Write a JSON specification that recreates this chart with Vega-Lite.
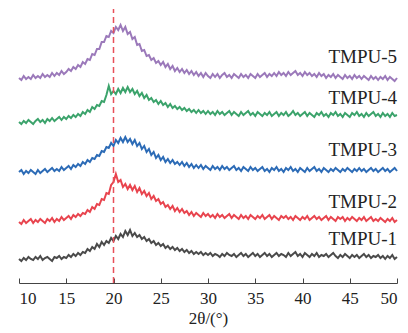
{"$schema":"https://vega.github.io/schema/vega-lite/v6.json","width":378,"height":278,"autosize":"none","padding":{"left":19,"top":5,"right":11,"bottom":50},"background":"white",
"datasets":{
"ref":[{"x":20}],
"labels":[{"s":1,"t":"TMPU-1","x":50,"y":44},{"s":2,"t":"TMPU-2","x":50,"y":81},{"s":3,"t":"TMPU-3","x":50,"y":133},{"s":4,"t":"TMPU-4","x":50,"y":185},{"s":5,"t":"TMPU-5","x":50,"y":226}],
"xrd":[
{"s":1,"x":10,"y":24},{"s":1,"x":10.25,"y":22},{"s":1,"x":10.5,"y":25},{"s":1,"x":10.75,"y":23},{"s":1,"x":11,"y":26},{"s":1,"x":11.25,"y":24},{"s":1,"x":11.5,"y":23},{"s":1,"x":11.75,"y":26},{"s":1,"x":12,"y":24},{"s":1,"x":12.25,"y":27},{"s":1,"x":12.5,"y":23},{"s":1,"x":12.75,"y":25},{"s":1,"x":13,"y":26},{"s":1,"x":13.25,"y":24},{"s":1,"x":13.5,"y":22},{"s":1,"x":13.75,"y":26},{"s":1,"x":14,"y":25},{"s":1,"x":14.25,"y":27},{"s":1,"x":14.5,"y":24},{"s":1,"x":14.75,"y":26},{"s":1,"x":15,"y":25},{"s":1,"x":15.25,"y":28},{"s":1,"x":15.5,"y":26},{"s":1,"x":15.75,"y":29},{"s":1,"x":16,"y":27},{"s":1,"x":16.25,"y":30},{"s":1,"x":16.5,"y":28},{"s":1,"x":16.75,"y":31},{"s":1,"x":17,"y":30},{"s":1,"x":17.25,"y":34},{"s":1,"x":17.5,"y":32},{"s":1,"x":17.75,"y":36},{"s":1,"x":18,"y":34},{"s":1,"x":18.25,"y":39},{"s":1,"x":18.5,"y":36},{"s":1,"x":18.75,"y":41},{"s":1,"x":19,"y":38},{"s":1,"x":19.25,"y":42},{"s":1,"x":19.5,"y":40},{"s":1,"x":19.75,"y":45},{"s":1,"x":20,"y":42},{"s":1,"x":20.25,"y":47},{"s":1,"x":20.5,"y":44},{"s":1,"x":20.75,"y":49},{"s":1,"x":21,"y":46},{"s":1,"x":21.25,"y":52},{"s":1,"x":21.5,"y":48},{"s":1,"x":21.75,"y":53},{"s":1,"x":22,"y":47},{"s":1,"x":22.25,"y":50},{"s":1,"x":22.5,"y":46},{"s":1,"x":22.75,"y":48},{"s":1,"x":23,"y":44},{"s":1,"x":23.25,"y":46},{"s":1,"x":23.5,"y":42},{"s":1,"x":23.75,"y":44},{"s":1,"x":24,"y":40},{"s":1,"x":24.25,"y":42},{"s":1,"x":24.5,"y":38},{"s":1,"x":24.75,"y":40},{"s":1,"x":25,"y":37},{"s":1,"x":25.25,"y":39},{"s":1,"x":25.5,"y":35},{"s":1,"x":25.75,"y":37},{"s":1,"x":26,"y":34},{"s":1,"x":26.25,"y":36},{"s":1,"x":26.5,"y":33},{"s":1,"x":26.75,"y":35},{"s":1,"x":27,"y":32},{"s":1,"x":27.25,"y":34},{"s":1,"x":27.5,"y":31},{"s":1,"x":27.75,"y":33},{"s":1,"x":28,"y":30},{"s":1,"x":28.25,"y":32},{"s":1,"x":28.5,"y":29},{"s":1,"x":28.75,"y":31},{"s":1,"x":29,"y":29},{"s":1,"x":29.25,"y":31},{"s":1,"x":29.5,"y":28},{"s":1,"x":29.75,"y":30},{"s":1,"x":30,"y":28},{"s":1,"x":30.25,"y":30},{"s":1,"x":30.5,"y":27},{"s":1,"x":30.75,"y":29},{"s":1,"x":31,"y":28},{"s":1,"x":31.25,"y":26},{"s":1,"x":31.5,"y":29},{"s":1,"x":31.75,"y":27},{"s":1,"x":32,"y":30},{"s":1,"x":32.25,"y":28},{"s":1,"x":32.5,"y":27},{"s":1,"x":32.75,"y":29},{"s":1,"x":33,"y":26},{"s":1,"x":33.25,"y":28},{"s":1,"x":33.5,"y":30},{"s":1,"x":33.75,"y":27},{"s":1,"x":34,"y":29},{"s":1,"x":34.25,"y":26},{"s":1,"x":34.5,"y":28},{"s":1,"x":34.75,"y":30},{"s":1,"x":35,"y":27},{"s":1,"x":35.25,"y":29},{"s":1,"x":35.5,"y":26},{"s":1,"x":35.75,"y":28},{"s":1,"x":36,"y":30},{"s":1,"x":36.25,"y":27},{"s":1,"x":36.5,"y":29},{"s":1,"x":36.75,"y":26},{"s":1,"x":37,"y":28},{"s":1,"x":37.25,"y":30},{"s":1,"x":37.5,"y":27},{"s":1,"x":37.75,"y":29},{"s":1,"x":38,"y":28},{"s":1,"x":38.25,"y":26},{"s":1,"x":38.5,"y":30},{"s":1,"x":38.75,"y":27},{"s":1,"x":39,"y":29},{"s":1,"x":39.25,"y":31},{"s":1,"x":39.5,"y":27},{"s":1,"x":39.75,"y":29},{"s":1,"x":40,"y":26},{"s":1,"x":40.25,"y":30},{"s":1,"x":40.5,"y":28},{"s":1,"x":40.75,"y":26},{"s":1,"x":41,"y":29},{"s":1,"x":41.25,"y":27},{"s":1,"x":41.5,"y":30},{"s":1,"x":41.75,"y":26},{"s":1,"x":42,"y":28},{"s":1,"x":42.25,"y":27},{"s":1,"x":42.5,"y":29},{"s":1,"x":42.75,"y":26},{"s":1,"x":43,"y":28},{"s":1,"x":43.25,"y":30},{"s":1,"x":43.5,"y":27},{"s":1,"x":43.75,"y":25},{"s":1,"x":44,"y":28},{"s":1,"x":44.25,"y":26},{"s":1,"x":44.5,"y":29},{"s":1,"x":44.75,"y":27},{"s":1,"x":45,"y":25},{"s":1,"x":45.25,"y":28},{"s":1,"x":45.5,"y":26},{"s":1,"x":45.75,"y":28},{"s":1,"x":46,"y":25},{"s":1,"x":46.25,"y":27},{"s":1,"x":46.5,"y":29},{"s":1,"x":46.75,"y":26},{"s":1,"x":47,"y":28},{"s":1,"x":47.25,"y":25},{"s":1,"x":47.5,"y":27},{"s":1,"x":47.75,"y":26},{"s":1,"x":48,"y":28},{"s":1,"x":48.25,"y":25},{"s":1,"x":48.5,"y":27},{"s":1,"x":48.75,"y":24},{"s":1,"x":49,"y":27},{"s":1,"x":49.25,"y":25},{"s":1,"x":49.5,"y":28},{"s":1,"x":49.75,"y":24},{"s":1,"x":50,"y":26},
{"s":2,"x":10,"y":61},{"s":2,"x":10.25,"y":59},{"s":2,"x":10.5,"y":63},{"s":2,"x":10.75,"y":60},{"s":2,"x":11,"y":62},{"s":2,"x":11.25,"y":64},{"s":2,"x":11.5,"y":60},{"s":2,"x":11.75,"y":63},{"s":2,"x":12,"y":61},{"s":2,"x":12.25,"y":64},{"s":2,"x":12.5,"y":62},{"s":2,"x":12.75,"y":60},{"s":2,"x":13,"y":64},{"s":2,"x":13.25,"y":62},{"s":2,"x":13.5,"y":65},{"s":2,"x":13.75,"y":61},{"s":2,"x":14,"y":64},{"s":2,"x":14.25,"y":62},{"s":2,"x":14.5,"y":66},{"s":2,"x":14.75,"y":63},{"s":2,"x":15,"y":65},{"s":2,"x":15.25,"y":67},{"s":2,"x":15.5,"y":64},{"s":2,"x":15.75,"y":68},{"s":2,"x":16,"y":66},{"s":2,"x":16.25,"y":69},{"s":2,"x":16.5,"y":67},{"s":2,"x":16.75,"y":70},{"s":2,"x":17,"y":69},{"s":2,"x":17.25,"y":73},{"s":2,"x":17.5,"y":71},{"s":2,"x":17.75,"y":76},{"s":2,"x":18,"y":74},{"s":2,"x":18.25,"y":79},{"s":2,"x":18.5,"y":78},{"s":2,"x":18.75,"y":84},{"s":2,"x":19,"y":83},{"s":2,"x":19.25,"y":90},{"s":2,"x":19.5,"y":89},{"s":2,"x":19.75,"y":98},{"s":2,"x":20,"y":101},{"s":2,"x":20.25,"y":109},{"s":2,"x":20.5,"y":101},{"s":2,"x":20.75,"y":103},{"s":2,"x":21,"y":96},{"s":2,"x":21.25,"y":99},{"s":2,"x":21.5,"y":94},{"s":2,"x":21.75,"y":98},{"s":2,"x":22,"y":93},{"s":2,"x":22.25,"y":97},{"s":2,"x":22.5,"y":91},{"s":2,"x":22.75,"y":95},{"s":2,"x":23,"y":89},{"s":2,"x":23.25,"y":92},{"s":2,"x":23.5,"y":87},{"s":2,"x":23.75,"y":90},{"s":2,"x":24,"y":84},{"s":2,"x":24.25,"y":87},{"s":2,"x":24.5,"y":82},{"s":2,"x":24.75,"y":84},{"s":2,"x":25,"y":79},{"s":2,"x":25.25,"y":81},{"s":2,"x":25.5,"y":76},{"s":2,"x":25.75,"y":78},{"s":2,"x":26,"y":74},{"s":2,"x":26.25,"y":77},{"s":2,"x":26.5,"y":72},{"s":2,"x":26.75,"y":75},{"s":2,"x":27,"y":71},{"s":2,"x":27.25,"y":74},{"s":2,"x":27.5,"y":70},{"s":2,"x":27.75,"y":72},{"s":2,"x":28,"y":68},{"s":2,"x":28.25,"y":71},{"s":2,"x":28.5,"y":67},{"s":2,"x":28.75,"y":70},{"s":2,"x":29,"y":68},{"s":2,"x":29.25,"y":66},{"s":2,"x":29.5,"y":70},{"s":2,"x":29.75,"y":67},{"s":2,"x":30,"y":69},{"s":2,"x":30.25,"y":66},{"s":2,"x":30.5,"y":68},{"s":2,"x":30.75,"y":65},{"s":2,"x":31,"y":69},{"s":2,"x":31.25,"y":66},{"s":2,"x":31.5,"y":68},{"s":2,"x":31.75,"y":65},{"s":2,"x":32,"y":67},{"s":2,"x":32.25,"y":69},{"s":2,"x":32.5,"y":65},{"s":2,"x":32.75,"y":68},{"s":2,"x":33,"y":66},{"s":2,"x":33.25,"y":64},{"s":2,"x":33.5,"y":68},{"s":2,"x":33.75,"y":65},{"s":2,"x":34,"y":67},{"s":2,"x":34.25,"y":64},{"s":2,"x":34.5,"y":68},{"s":2,"x":34.75,"y":66},{"s":2,"x":35,"y":64},{"s":2,"x":35.25,"y":67},{"s":2,"x":35.5,"y":65},{"s":2,"x":35.75,"y":68},{"s":2,"x":36,"y":64},{"s":2,"x":36.25,"y":66},{"s":2,"x":36.5,"y":68},{"s":2,"x":36.75,"y":64},{"s":2,"x":37,"y":67},{"s":2,"x":37.25,"y":65},{"s":2,"x":37.5,"y":63},{"s":2,"x":37.75,"y":67},{"s":2,"x":38,"y":65},{"s":2,"x":38.25,"y":67},{"s":2,"x":38.5,"y":64},{"s":2,"x":38.75,"y":66},{"s":2,"x":39,"y":63},{"s":2,"x":39.25,"y":67},{"s":2,"x":39.5,"y":65},{"s":2,"x":39.75,"y":63},{"s":2,"x":40,"y":66},{"s":2,"x":40.25,"y":64},{"s":2,"x":40.5,"y":67},{"s":2,"x":40.75,"y":63},{"s":2,"x":41,"y":65},{"s":2,"x":41.25,"y":67},{"s":2,"x":41.5,"y":64},{"s":2,"x":41.75,"y":66},{"s":2,"x":42,"y":63},{"s":2,"x":42.25,"y":65},{"s":2,"x":42.5,"y":67},{"s":2,"x":42.75,"y":63},{"s":2,"x":43,"y":66},{"s":2,"x":43.25,"y":64},{"s":2,"x":43.5,"y":62},{"s":2,"x":43.75,"y":66},{"s":2,"x":44,"y":64},{"s":2,"x":44.25,"y":66},{"s":2,"x":44.5,"y":62},{"s":2,"x":44.75,"y":65},{"s":2,"x":45,"y":63},{"s":2,"x":45.25,"y":66},{"s":2,"x":45.5,"y":64},{"s":2,"x":45.75,"y":62},{"s":2,"x":46,"y":65},{"s":2,"x":46.25,"y":63},{"s":2,"x":46.5,"y":66},{"s":2,"x":46.75,"y":62},{"s":2,"x":47,"y":64},{"s":2,"x":47.25,"y":66},{"s":2,"x":47.5,"y":62},{"s":2,"x":47.75,"y":64},{"s":2,"x":48,"y":62},{"s":2,"x":48.25,"y":65},{"s":2,"x":48.5,"y":63},{"s":2,"x":48.75,"y":61},{"s":2,"x":49,"y":64},{"s":2,"x":49.25,"y":62},{"s":2,"x":49.5,"y":65},{"s":2,"x":49.75,"y":61},{"s":2,"x":50,"y":63},
{"s":3,"x":10,"y":111},{"s":3,"x":10.25,"y":113},{"s":3,"x":10.5,"y":109},{"s":3,"x":10.75,"y":112},{"s":3,"x":11,"y":110},{"s":3,"x":11.25,"y":113},{"s":3,"x":11.5,"y":111},{"s":3,"x":11.75,"y":109},{"s":3,"x":12,"y":113},{"s":3,"x":12.25,"y":110},{"s":3,"x":12.5,"y":112},{"s":3,"x":12.75,"y":114},{"s":3,"x":13,"y":111},{"s":3,"x":13.25,"y":113},{"s":3,"x":13.5,"y":115},{"s":3,"x":13.75,"y":112},{"s":3,"x":14,"y":114},{"s":3,"x":14.25,"y":112},{"s":3,"x":14.5,"y":116},{"s":3,"x":14.75,"y":113},{"s":3,"x":15,"y":115},{"s":3,"x":15.25,"y":117},{"s":3,"x":15.5,"y":114},{"s":3,"x":15.75,"y":118},{"s":3,"x":16,"y":116},{"s":3,"x":16.25,"y":119},{"s":3,"x":16.5,"y":117},{"s":3,"x":16.75,"y":121},{"s":3,"x":17,"y":119},{"s":3,"x":17.25,"y":123},{"s":3,"x":17.5,"y":121},{"s":3,"x":17.75,"y":125},{"s":3,"x":18,"y":124},{"s":3,"x":18.25,"y":128},{"s":3,"x":18.5,"y":127},{"s":3,"x":18.75,"y":132},{"s":3,"x":19,"y":131},{"s":3,"x":19.25,"y":136},{"s":3,"x":19.5,"y":135},{"s":3,"x":19.75,"y":140},{"s":3,"x":20,"y":137},{"s":3,"x":20.25,"y":143},{"s":3,"x":20.5,"y":140},{"s":3,"x":20.75,"y":145},{"s":3,"x":21,"y":141},{"s":3,"x":21.25,"y":146},{"s":3,"x":21.5,"y":141},{"s":3,"x":21.75,"y":144},{"s":3,"x":22,"y":139},{"s":3,"x":22.25,"y":143},{"s":3,"x":22.5,"y":137},{"s":3,"x":22.75,"y":140},{"s":3,"x":23,"y":134},{"s":3,"x":23.25,"y":137},{"s":3,"x":23.5,"y":131},{"s":3,"x":23.75,"y":134},{"s":3,"x":24,"y":128},{"s":3,"x":24.25,"y":131},{"s":3,"x":24.5,"y":125},{"s":3,"x":24.75,"y":128},{"s":3,"x":25,"y":123},{"s":3,"x":25.25,"y":126},{"s":3,"x":25.5,"y":121},{"s":3,"x":25.75,"y":124},{"s":3,"x":26,"y":120},{"s":3,"x":26.25,"y":123},{"s":3,"x":26.5,"y":119},{"s":3,"x":26.75,"y":121},{"s":3,"x":27,"y":118},{"s":3,"x":27.25,"y":121},{"s":3,"x":27.5,"y":117},{"s":3,"x":27.75,"y":120},{"s":3,"x":28,"y":116},{"s":3,"x":28.25,"y":119},{"s":3,"x":28.5,"y":115},{"s":3,"x":28.75,"y":118},{"s":3,"x":29,"y":115},{"s":3,"x":29.25,"y":118},{"s":3,"x":29.5,"y":114},{"s":3,"x":29.75,"y":117},{"s":3,"x":30,"y":115},{"s":3,"x":30.25,"y":113},{"s":3,"x":30.5,"y":117},{"s":3,"x":30.75,"y":114},{"s":3,"x":31,"y":116},{"s":3,"x":31.25,"y":113},{"s":3,"x":31.5,"y":117},{"s":3,"x":31.75,"y":114},{"s":3,"x":32,"y":116},{"s":3,"x":32.25,"y":113},{"s":3,"x":32.5,"y":115},{"s":3,"x":32.75,"y":117},{"s":3,"x":33,"y":113},{"s":3,"x":33.25,"y":115},{"s":3,"x":33.5,"y":112},{"s":3,"x":33.75,"y":116},{"s":3,"x":34,"y":114},{"s":3,"x":34.25,"y":112},{"s":3,"x":34.5,"y":116},{"s":3,"x":34.75,"y":113},{"s":3,"x":35,"y":115},{"s":3,"x":35.25,"y":112},{"s":3,"x":35.5,"y":114},{"s":3,"x":35.75,"y":116},{"s":3,"x":36,"y":112},{"s":3,"x":36.25,"y":114},{"s":3,"x":36.5,"y":111},{"s":3,"x":36.75,"y":115},{"s":3,"x":37,"y":113},{"s":3,"x":37.25,"y":116},{"s":3,"x":37.5,"y":112},{"s":3,"x":37.75,"y":114},{"s":3,"x":38,"y":111},{"s":3,"x":38.25,"y":115},{"s":3,"x":38.5,"y":113},{"s":3,"x":38.75,"y":116},{"s":3,"x":39,"y":112},{"s":3,"x":39.25,"y":114},{"s":3,"x":39.5,"y":111},{"s":3,"x":39.75,"y":115},{"s":3,"x":40,"y":113},{"s":3,"x":40.25,"y":111},{"s":3,"x":40.5,"y":115},{"s":3,"x":40.75,"y":112},{"s":3,"x":41,"y":114},{"s":3,"x":41.25,"y":116},{"s":3,"x":41.5,"y":112},{"s":3,"x":41.75,"y":114},{"s":3,"x":42,"y":111},{"s":3,"x":42.25,"y":115},{"s":3,"x":42.5,"y":113},{"s":3,"x":42.75,"y":111},{"s":3,"x":43,"y":114},{"s":3,"x":43.25,"y":112},{"s":3,"x":43.5,"y":115},{"s":3,"x":43.75,"y":113},{"s":3,"x":44,"y":111},{"s":3,"x":44.25,"y":114},{"s":3,"x":44.5,"y":112},{"s":3,"x":44.75,"y":115},{"s":3,"x":45,"y":113},{"s":3,"x":45.25,"y":111},{"s":3,"x":45.5,"y":114},{"s":3,"x":45.75,"y":112},{"s":3,"x":46,"y":115},{"s":3,"x":46.25,"y":112},{"s":3,"x":46.5,"y":114},{"s":3,"x":46.75,"y":111},{"s":3,"x":47,"y":113},{"s":3,"x":47.25,"y":115},{"s":3,"x":47.5,"y":112},{"s":3,"x":47.75,"y":114},{"s":3,"x":48,"y":111},{"s":3,"x":48.25,"y":113},{"s":3,"x":48.5,"y":115},{"s":3,"x":48.75,"y":112},{"s":3,"x":49,"y":114},{"s":3,"x":49.25,"y":111},{"s":3,"x":49.5,"y":113},{"s":3,"x":49.75,"y":115},{"s":3,"x":50,"y":112},
{"s":4,"x":10,"y":161},{"s":4,"x":10.25,"y":159},{"s":4,"x":10.5,"y":162},{"s":4,"x":10.75,"y":160},{"s":4,"x":11,"y":163},{"s":4,"x":11.25,"y":161},{"s":4,"x":11.5,"y":159},{"s":4,"x":11.75,"y":162},{"s":4,"x":12,"y":164},{"s":4,"x":12.25,"y":161},{"s":4,"x":12.5,"y":163},{"s":4,"x":12.75,"y":160},{"s":4,"x":13,"y":164},{"s":4,"x":13.25,"y":162},{"s":4,"x":13.5,"y":165},{"s":4,"x":13.75,"y":162},{"s":4,"x":14,"y":164},{"s":4,"x":14.25,"y":166},{"s":4,"x":14.5,"y":163},{"s":4,"x":14.75,"y":166},{"s":4,"x":15,"y":164},{"s":4,"x":15.25,"y":167},{"s":4,"x":15.5,"y":165},{"s":4,"x":15.75,"y":168},{"s":4,"x":16,"y":166},{"s":4,"x":16.25,"y":169},{"s":4,"x":16.5,"y":167},{"s":4,"x":16.75,"y":171},{"s":4,"x":17,"y":169},{"s":4,"x":17.25,"y":173},{"s":4,"x":17.5,"y":171},{"s":4,"x":17.75,"y":176},{"s":4,"x":18,"y":174},{"s":4,"x":18.25,"y":178},{"s":4,"x":18.5,"y":177},{"s":4,"x":18.75,"y":182},{"s":4,"x":19,"y":181},{"s":4,"x":19.25,"y":188},{"s":4,"x":19.5,"y":197},{"s":4,"x":19.75,"y":189},{"s":4,"x":20,"y":192},{"s":4,"x":20.25,"y":189},{"s":4,"x":20.5,"y":194},{"s":4,"x":20.75,"y":190},{"s":4,"x":21,"y":195},{"s":4,"x":21.25,"y":191},{"s":4,"x":21.5,"y":196},{"s":4,"x":21.75,"y":191},{"s":4,"x":22,"y":194},{"s":4,"x":22.25,"y":189},{"s":4,"x":22.5,"y":192},{"s":4,"x":22.75,"y":187},{"s":4,"x":23,"y":190},{"s":4,"x":23.25,"y":185},{"s":4,"x":23.5,"y":188},{"s":4,"x":23.75,"y":183},{"s":4,"x":24,"y":185},{"s":4,"x":24.25,"y":181},{"s":4,"x":24.5,"y":183},{"s":4,"x":24.75,"y":179},{"s":4,"x":25,"y":182},{"s":4,"x":25.25,"y":178},{"s":4,"x":25.5,"y":180},{"s":4,"x":25.75,"y":176},{"s":4,"x":26,"y":179},{"s":4,"x":26.25,"y":175},{"s":4,"x":26.5,"y":177},{"s":4,"x":26.75,"y":174},{"s":4,"x":27,"y":176},{"s":4,"x":27.25,"y":173},{"s":4,"x":27.5,"y":175},{"s":4,"x":27.75,"y":172},{"s":4,"x":28,"y":174},{"s":4,"x":28.25,"y":171},{"s":4,"x":28.5,"y":173},{"s":4,"x":28.75,"y":170},{"s":4,"x":29,"y":173},{"s":4,"x":29.25,"y":170},{"s":4,"x":29.5,"y":172},{"s":4,"x":29.75,"y":169},{"s":4,"x":30,"y":172},{"s":4,"x":30.25,"y":169},{"s":4,"x":30.5,"y":171},{"s":4,"x":30.75,"y":168},{"s":4,"x":31,"y":172},{"s":4,"x":31.25,"y":169},{"s":4,"x":31.5,"y":171},{"s":4,"x":31.75,"y":168},{"s":4,"x":32,"y":170},{"s":4,"x":32.25,"y":172},{"s":4,"x":32.5,"y":168},{"s":4,"x":32.75,"y":171},{"s":4,"x":33,"y":169},{"s":4,"x":33.25,"y":167},{"s":4,"x":33.5,"y":171},{"s":4,"x":33.75,"y":168},{"s":4,"x":34,"y":170},{"s":4,"x":34.25,"y":172},{"s":4,"x":34.5,"y":168},{"s":4,"x":34.75,"y":170},{"s":4,"x":35,"y":167},{"s":4,"x":35.25,"y":171},{"s":4,"x":35.5,"y":169},{"s":4,"x":35.75,"y":167},{"s":4,"x":36,"y":170},{"s":4,"x":36.25,"y":168},{"s":4,"x":36.5,"y":171},{"s":4,"x":36.75,"y":167},{"s":4,"x":37,"y":169},{"s":4,"x":37.25,"y":171},{"s":4,"x":37.5,"y":167},{"s":4,"x":37.75,"y":170},{"s":4,"x":38,"y":168},{"s":4,"x":38.25,"y":171},{"s":4,"x":38.5,"y":167},{"s":4,"x":38.75,"y":169},{"s":4,"x":39,"y":172},{"s":4,"x":39.25,"y":168},{"s":4,"x":39.5,"y":170},{"s":4,"x":39.75,"y":167},{"s":4,"x":40,"y":169},{"s":4,"x":40.25,"y":171},{"s":4,"x":40.5,"y":167},{"s":4,"x":40.75,"y":170},{"s":4,"x":41,"y":168},{"s":4,"x":41.25,"y":166},{"s":4,"x":41.5,"y":170},{"s":4,"x":41.75,"y":168},{"s":4,"x":42,"y":171},{"s":4,"x":42.25,"y":167},{"s":4,"x":42.5,"y":169},{"s":4,"x":42.75,"y":166},{"s":4,"x":43,"y":170},{"s":4,"x":43.25,"y":168},{"s":4,"x":43.5,"y":171},{"s":4,"x":43.75,"y":167},{"s":4,"x":44,"y":169},{"s":4,"x":44.25,"y":166},{"s":4,"x":44.5,"y":170},{"s":4,"x":44.75,"y":168},{"s":4,"x":45,"y":166},{"s":4,"x":45.25,"y":170},{"s":4,"x":45.5,"y":168},{"s":4,"x":45.75,"y":171},{"s":4,"x":46,"y":167},{"s":4,"x":46.25,"y":169},{"s":4,"x":46.5,"y":166},{"s":4,"x":46.75,"y":170},{"s":4,"x":47,"y":167},{"s":4,"x":47.25,"y":169},{"s":4,"x":47.5,"y":171},{"s":4,"x":47.75,"y":167},{"s":4,"x":48,"y":169},{"s":4,"x":48.25,"y":166},{"s":4,"x":48.5,"y":170},{"s":4,"x":48.75,"y":167},{"s":4,"x":49,"y":169},{"s":4,"x":49.25,"y":166},{"s":4,"x":49.5,"y":170},{"s":4,"x":49.75,"y":167},{"s":4,"x":50,"y":168},
{"s":5,"x":10,"y":205},{"s":5,"x":10.25,"y":203},{"s":5,"x":10.5,"y":207},{"s":5,"x":10.75,"y":204},{"s":5,"x":11,"y":206},{"s":5,"x":11.25,"y":204},{"s":5,"x":11.5,"y":208},{"s":5,"x":11.75,"y":205},{"s":5,"x":12,"y":207},{"s":5,"x":12.25,"y":205},{"s":5,"x":12.5,"y":209},{"s":5,"x":12.75,"y":206},{"s":5,"x":13,"y":208},{"s":5,"x":13.25,"y":206},{"s":5,"x":13.5,"y":210},{"s":5,"x":13.75,"y":207},{"s":5,"x":14,"y":210},{"s":5,"x":14.25,"y":208},{"s":5,"x":14.5,"y":212},{"s":5,"x":14.75,"y":209},{"s":5,"x":15,"y":211},{"s":5,"x":15.25,"y":214},{"s":5,"x":15.5,"y":212},{"s":5,"x":15.75,"y":216},{"s":5,"x":16,"y":214},{"s":5,"x":16.25,"y":218},{"s":5,"x":16.5,"y":216},{"s":5,"x":16.75,"y":221},{"s":5,"x":17,"y":219},{"s":5,"x":17.25,"y":224},{"s":5,"x":17.5,"y":223},{"s":5,"x":17.75,"y":229},{"s":5,"x":18,"y":228},{"s":5,"x":18.25,"y":234},{"s":5,"x":18.5,"y":234},{"s":5,"x":18.75,"y":241},{"s":5,"x":19,"y":241},{"s":5,"x":19.25,"y":247},{"s":5,"x":19.5,"y":246},{"s":5,"x":19.75,"y":252},{"s":5,"x":20,"y":250},{"s":5,"x":20.25,"y":256},{"s":5,"x":20.5,"y":253},{"s":5,"x":20.75,"y":258},{"s":5,"x":21,"y":252},{"s":5,"x":21.25,"y":256},{"s":5,"x":21.5,"y":249},{"s":5,"x":21.75,"y":251},{"s":5,"x":22,"y":244},{"s":5,"x":22.25,"y":246},{"s":5,"x":22.5,"y":238},{"s":5,"x":22.75,"y":239},{"s":5,"x":23,"y":232},{"s":5,"x":23.25,"y":233},{"s":5,"x":23.5,"y":227},{"s":5,"x":23.75,"y":228},{"s":5,"x":24,"y":223},{"s":5,"x":24.25,"y":225},{"s":5,"x":24.5,"y":220},{"s":5,"x":24.75,"y":222},{"s":5,"x":25,"y":218},{"s":5,"x":25.25,"y":221},{"s":5,"x":25.5,"y":216},{"s":5,"x":25.75,"y":219},{"s":5,"x":26,"y":214},{"s":5,"x":26.25,"y":217},{"s":5,"x":26.5,"y":212},{"s":5,"x":26.75,"y":215},{"s":5,"x":27,"y":211},{"s":5,"x":27.25,"y":214},{"s":5,"x":27.5,"y":210},{"s":5,"x":27.75,"y":213},{"s":5,"x":28,"y":209},{"s":5,"x":28.25,"y":212},{"s":5,"x":28.5,"y":208},{"s":5,"x":28.75,"y":211},{"s":5,"x":29,"y":207},{"s":5,"x":29.25,"y":210},{"s":5,"x":29.5,"y":206},{"s":5,"x":29.75,"y":210},{"s":5,"x":30,"y":207},{"s":5,"x":30.25,"y":205},{"s":5,"x":30.5,"y":209},{"s":5,"x":30.75,"y":206},{"s":5,"x":31,"y":209},{"s":5,"x":31.25,"y":205},{"s":5,"x":31.5,"y":208},{"s":5,"x":31.75,"y":210},{"s":5,"x":32,"y":206},{"s":5,"x":32.25,"y":208},{"s":5,"x":32.5,"y":205},{"s":5,"x":32.75,"y":209},{"s":5,"x":33,"y":207},{"s":5,"x":33.25,"y":205},{"s":5,"x":33.5,"y":209},{"s":5,"x":33.75,"y":206},{"s":5,"x":34,"y":208},{"s":5,"x":34.25,"y":205},{"s":5,"x":34.5,"y":209},{"s":5,"x":34.75,"y":207},{"s":5,"x":35,"y":205},{"s":5,"x":35.25,"y":209},{"s":5,"x":35.5,"y":206},{"s":5,"x":35.75,"y":208},{"s":5,"x":36,"y":210},{"s":5,"x":36.25,"y":206},{"s":5,"x":36.5,"y":209},{"s":5,"x":36.75,"y":207},{"s":5,"x":37,"y":210},{"s":5,"x":37.25,"y":207},{"s":5,"x":37.5,"y":211},{"s":5,"x":37.75,"y":208},{"s":5,"x":38,"y":210},{"s":5,"x":38.25,"y":207},{"s":5,"x":38.5,"y":211},{"s":5,"x":38.75,"y":208},{"s":5,"x":39,"y":210},{"s":5,"x":39.25,"y":212},{"s":5,"x":39.5,"y":208},{"s":5,"x":39.75,"y":210},{"s":5,"x":40,"y":207},{"s":5,"x":40.25,"y":211},{"s":5,"x":40.5,"y":208},{"s":5,"x":40.75,"y":210},{"s":5,"x":41,"y":207},{"s":5,"x":41.25,"y":209},{"s":5,"x":41.5,"y":206},{"s":5,"x":41.75,"y":210},{"s":5,"x":42,"y":207},{"s":5,"x":42.25,"y":209},{"s":5,"x":42.5,"y":205},{"s":5,"x":42.75,"y":208},{"s":5,"x":43,"y":206},{"s":5,"x":43.25,"y":209},{"s":5,"x":43.5,"y":205},{"s":5,"x":43.75,"y":208},{"s":5,"x":44,"y":206},{"s":5,"x":44.25,"y":204},{"s":5,"x":44.5,"y":208},{"s":5,"x":44.75,"y":205},{"s":5,"x":45,"y":207},{"s":5,"x":45.25,"y":204},{"s":5,"x":45.5,"y":208},{"s":5,"x":45.75,"y":205},{"s":5,"x":46,"y":207},{"s":5,"x":46.25,"y":204},{"s":5,"x":46.5,"y":207},{"s":5,"x":46.75,"y":205},{"s":5,"x":47,"y":203},{"s":5,"x":47.25,"y":207},{"s":5,"x":47.5,"y":204},{"s":5,"x":47.75,"y":206},{"s":5,"x":48,"y":203},{"s":5,"x":48.25,"y":206},{"s":5,"x":48.5,"y":204},{"s":5,"x":48.75,"y":207},{"s":5,"x":49,"y":203},{"s":5,"x":49.25,"y":206},{"s":5,"x":49.5,"y":204},{"s":5,"x":49.75,"y":202},{"s":5,"x":50,"y":205}
]},
"layer":[
{"data":{"name":"xrd"},"mark":{"type":"line","strokeWidth":2,"strokeJoin":"miter"},
"encoding":{
"x":{"field":"x","type":"quantitative","scale":{"domain":[10,50],"nice":false,"zero":false},
"axis":{"values":[10,15,20,25,30,35,40,45,50],"grid":false,"domainColor":"#444","domainWidth":1,"tickColor":"#444","tickSize":-5,"tickWidth":1,"labelPadding":12,"labelFont":"Liberation Serif","labelFontSize":17,"labelColor":"#222","title":"2θ/(°)","titleFont":"Liberation Serif","titleFontSize":17,"titleFontWeight":"normal","titleColor":"#222","titlePadding":4}},
"y":{"field":"y","type":"quantitative","scale":{"domain":[0,278],"nice":false,"zero":false},"axis":null},
"color":{"field":"s","type":"nominal","scale":{"domain":[1,2,3,4,5],"range":["#4a4a4a","#e8444e","#2c6bb6","#3ba36b","#9b79ba"]},"legend":null}}},
{"data":{"name":"ref"},"mark":{"type":"rule","color":"#e8505a","strokeDash":[6,4],"strokeWidth":1.5},
"encoding":{"x":{"field":"x","type":"quantitative"},"y":{"datum":0},"y2":{"datum":274}}},
{"data":{"name":"labels"},"mark":{"type":"text","align":"right","baseline":"middle","font":"Liberation Serif","fontSize":19,"color":"#222"},
"encoding":{"x":{"field":"x","type":"quantitative"},"y":{"field":"y","type":"quantitative"},"text":{"field":"t"}}}
],
"config":{"view":{"stroke":null}}}
